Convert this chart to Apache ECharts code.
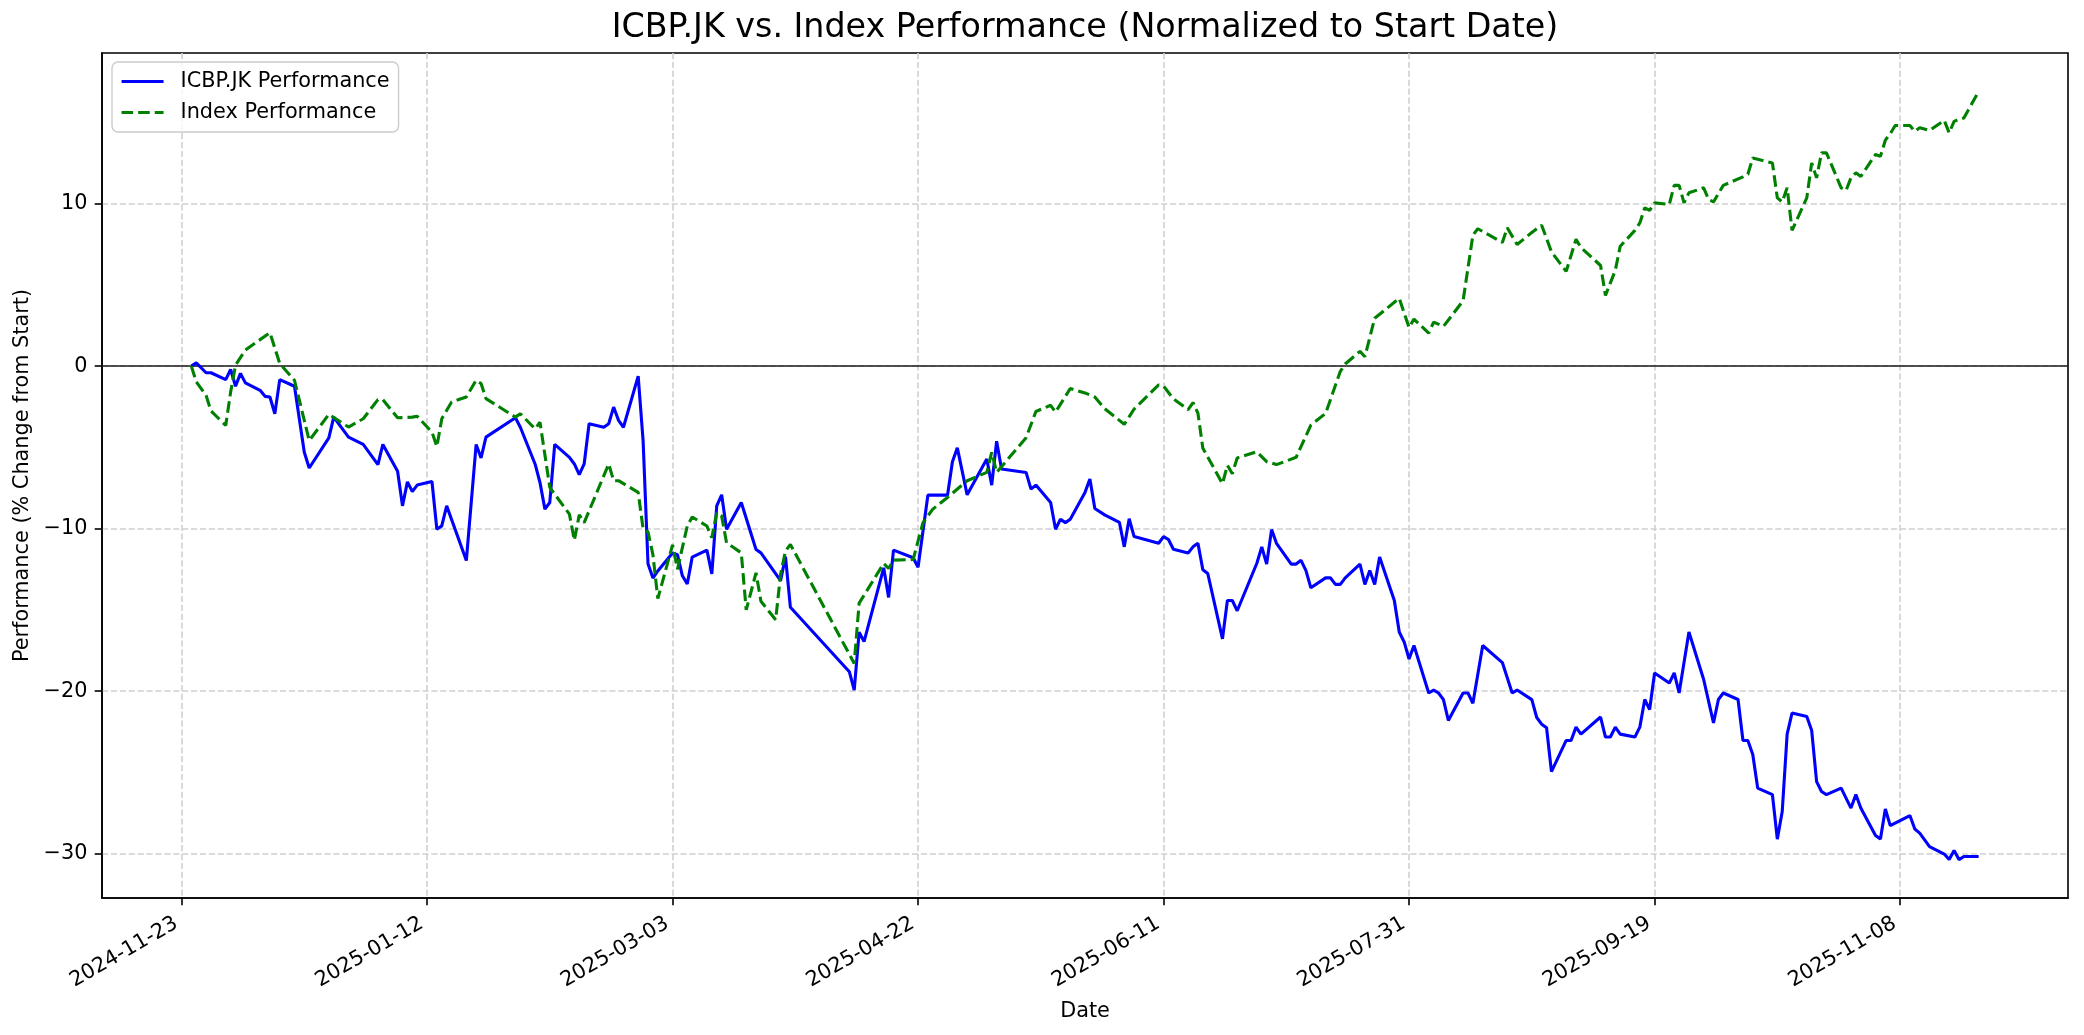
<!DOCTYPE html>
<html><head><meta charset="utf-8">
<script src="https://cdn.jsdelivr.net/npm/echarts@6/dist/echarts.min.js"></script>
<style>html,body{margin:0;padding:0;background:#fff}#chart{width:2084px;height:1035px}</style>
</head><body><div id="chart"></div>
<script>
const chartTitle = 'ICBP.JK vs. Index Performance (Normalized to Start Date)';
const seriesNames = ['ICBP.JK Performance', 'Index Performance'];

const icbpDates = [
'2024-11-25','2024-11-26','2024-11-28','2024-11-29','2024-12-02','2024-12-03','2024-12-04','2024-12-05','2024-12-06',
'2024-12-09','2024-12-10','2024-12-11','2024-12-12','2024-12-13','2024-12-16','2024-12-18','2024-12-19','2024-12-23',
'2024-12-24','2024-12-27','2024-12-30','2025-01-02','2025-01-03','2025-01-06','2025-01-07','2025-01-08','2025-01-09',
'2025-01-10','2025-01-13','2025-01-14','2025-01-15','2025-01-16','2025-01-20','2025-01-22','2025-01-23','2025-01-24',
'2025-01-30','2025-01-31','2025-02-03','2025-02-04','2025-02-05','2025-02-06','2025-02-07','2025-02-10','2025-02-11',
'2025-02-12','2025-02-13','2025-02-14','2025-02-17','2025-02-18','2025-02-19','2025-02-20','2025-02-21','2025-02-24',
'2025-02-25','2025-02-26','2025-02-27','2025-02-28','2025-03-03','2025-03-04','2025-03-05','2025-03-06','2025-03-07',
'2025-03-10','2025-03-11','2025-03-12','2025-03-13','2025-03-14','2025-03-17','2025-03-20','2025-03-21','2025-03-25',
'2025-03-26','2025-03-27','2025-04-08','2025-04-09','2025-04-10','2025-04-11','2025-04-15','2025-04-16','2025-04-17',
'2025-04-21','2025-04-22','2025-04-24','2025-04-28','2025-04-29','2025-04-30','2025-05-02','2025-05-06','2025-05-07',
'2025-05-08','2025-05-09','2025-05-14','2025-05-15','2025-05-16','2025-05-19','2025-05-20','2025-05-21','2025-05-22',
'2025-05-23','2025-05-26','2025-05-27','2025-05-28','2025-05-30','2025-06-02','2025-06-03','2025-06-04','2025-06-05',
'2025-06-10','2025-06-11','2025-06-12','2025-06-13','2025-06-16','2025-06-17','2025-06-18','2025-06-19','2025-06-20',
'2025-06-23','2025-06-24','2025-06-25','2025-06-26','2025-06-30','2025-07-01','2025-07-02','2025-07-03','2025-07-04',
'2025-07-07','2025-07-08','2025-07-09','2025-07-10','2025-07-11','2025-07-14','2025-07-15','2025-07-16','2025-07-17',
'2025-07-18','2025-07-21','2025-07-22','2025-07-23','2025-07-24','2025-07-25','2025-07-28','2025-07-29','2025-07-30',
'2025-07-31','2025-08-01','2025-08-04','2025-08-05','2025-08-06','2025-08-07','2025-08-08','2025-08-11','2025-08-12',
'2025-08-13','2025-08-15','2025-08-19','2025-08-21','2025-08-22','2025-08-25','2025-08-26','2025-08-27','2025-08-28',
'2025-08-29','2025-09-01','2025-09-02','2025-09-03','2025-09-04','2025-09-08','2025-09-09','2025-09-10','2025-09-11',
'2025-09-12','2025-09-15','2025-09-16','2025-09-17','2025-09-18','2025-09-19','2025-09-22','2025-09-23','2025-09-24',
'2025-09-26','2025-09-29','2025-10-01','2025-10-02','2025-10-03','2025-10-06','2025-10-07','2025-10-08','2025-10-09',
'2025-10-10','2025-10-13','2025-10-14','2025-10-15','2025-10-16','2025-10-17','2025-10-20','2025-10-21','2025-10-22',
'2025-10-23','2025-10-24','2025-10-27','2025-10-29','2025-10-30','2025-10-31','2025-11-03','2025-11-04','2025-11-05',
'2025-11-06','2025-11-10','2025-11-11','2025-11-12','2025-11-14','2025-11-17','2025-11-18','2025-11-19','2025-11-20',
'2025-11-21','2025-11-24'
];
const icbpValues = [
0.0,0.2,-0.41,-0.41,-0.83,-0.21,-1.24,-0.45,-1.03,
-1.49,-1.86,-1.9,-2.93,-0.83,-1.24,-5.3,-6.27,-4.41,
-3.14,-4.37,-4.82,-6.06,-4.82,-6.47,-8.6,-7.12,-7.71,
-7.32,-7.1,-10.04,-9.83,-8.6,-11.96,-4.82,-5.65,-4.37,
-3.18,-3.76,-6.02,-7.16,-8.8,-8.39,-4.82,-5.61,-6.02,
-6.68,-6.02,-3.55,-3.76,-3.55,-2.52,-3.34,-3.76,-0.62,
-4.58,-12.16,-13.04,-12.6,-11.5,-11.6,-12.9,-13.4,-11.75,
-11.32,-12.78,-8.6,-7.92,-10.04,-8.39,-11.28,-11.49,-13.2,
-11.73,-14.84,-18.8,-19.94,-16.37,-16.95,-12.41,-14.23,-11.32,
-11.79,-12.37,-7.94,-7.94,-5.88,-5.03,-7.92,-5.71,-7.32,
-4.62,-6.33,-6.54,-7.57,-7.32,-8.39,-10.04,-9.42,-9.63,
-9.42,-7.77,-6.95,-8.76,-9.15,-9.61,-11.12,-9.39,-10.49,
-10.9,-10.49,-10.67,-11.27,-11.5,-11.12,-10.9,-12.53,-12.76,
-16.78,-14.42,-14.42,-15.05,-12.13,-11.12,-12.18,-10.06,-10.9,
-12.18,-12.18,-11.95,-12.58,-13.64,-13.03,-13.03,-13.43,-13.43,
-13.03,-12.18,-13.43,-12.58,-13.43,-11.75,-14.42,-16.36,-16.97,
-18.02,-17.19,-20.11,-19.93,-20.11,-20.52,-21.8,-20.11,-20.11,
-20.74,-17.19,-18.24,-20.11,-19.93,-20.52,-21.62,-22.03,-22.25,
-24.95,-23.03,-23.03,-22.21,-22.64,-21.59,-22.82,-22.82,-22.21,
-22.64,-22.82,-22.21,-20.51,-21.13,-18.88,-19.5,-18.88,-20.11,
-16.36,-19.28,-21.95,-20.51,-20.11,-20.51,-23.03,-23.03,-23.9,
-25.96,-26.36,-29.1,-27.4,-22.64,-21.34,-21.56,-22.42,-25.56,
-26.17,-26.36,-25.96,-27.19,-26.36,-27.19,-28.88,-29.1,-27.25,
-28.27,-27.65,-28.48,-28.73,-29.56,-30.02,-30.36,-29.8,-30.36,
-30.17,-30.17
];

const indexDates = [
'2024-11-25','2024-11-26','2024-11-28','2024-11-29','2024-12-02','2024-12-03','2024-12-04','2024-12-06','2024-12-11',
'2024-12-13','2024-12-16','2024-12-19','2024-12-23','2024-12-27','2024-12-30','2025-01-02','2025-01-03','2025-01-06',
'2025-01-09','2025-01-10','2025-01-13','2025-01-14','2025-01-15','2025-01-17','2025-01-20','2025-01-22','2025-01-23',
'2025-01-24','2025-01-30','2025-01-31','2025-02-03','2025-02-04','2025-02-06','2025-02-07','2025-02-10','2025-02-11',
'2025-02-12','2025-02-13','2025-02-18','2025-02-19','2025-02-20','2025-02-24','2025-02-25','2025-02-26','2025-02-27',
'2025-02-28','2025-03-03','2025-03-04','2025-03-06','2025-03-07','2025-03-10','2025-03-11','2025-03-12','2025-03-13',
'2025-03-14','2025-03-17','2025-03-18','2025-03-20','2025-03-21','2025-03-24','2025-03-25','2025-03-26','2025-03-27',
'2025-04-09','2025-04-10','2025-04-11','2025-04-15','2025-04-16','2025-04-17','2025-04-21','2025-04-23','2025-04-25',
'2025-04-28','2025-05-02','2025-05-06','2025-05-07','2025-05-08','2025-05-14','2025-05-16','2025-05-19','2025-05-20',
'2025-05-23','2025-05-26','2025-05-28','2025-05-30','2025-06-03','2025-06-05','2025-06-10','2025-06-11','2025-06-13',
'2025-06-16','2025-06-17','2025-06-18','2025-06-19','2025-06-23','2025-06-24','2025-06-25','2025-06-26','2025-06-30',
'2025-07-02','2025-07-04','2025-07-08','2025-07-11','2025-07-14','2025-07-17','2025-07-18','2025-07-21','2025-07-22',
'2025-07-24','2025-07-29','2025-07-31','2025-08-01','2025-08-04','2025-08-05','2025-08-07','2025-08-11','2025-08-13',
'2025-08-14','2025-08-19','2025-08-20','2025-08-22','2025-08-25','2025-08-27','2025-08-29','2025-09-01','2025-09-03',
'2025-09-04','2025-09-08','2025-09-09','2025-09-10','2025-09-11','2025-09-12','2025-09-15','2025-09-16','2025-09-17',
'2025-09-18','2025-09-19','2025-09-22','2025-09-23','2025-09-24','2025-09-25','2025-09-26','2025-09-29','2025-09-30',
'2025-10-01','2025-10-03','2025-10-07','2025-10-08','2025-10-09','2025-10-13','2025-10-14','2025-10-15','2025-10-16',
'2025-10-17','2025-10-20','2025-10-21','2025-10-22','2025-10-23','2025-10-24','2025-10-27','2025-10-28','2025-10-29',
'2025-10-30','2025-10-31','2025-11-03','2025-11-04','2025-11-05','2025-11-06','2025-11-07','2025-11-10','2025-11-11',
'2025-11-12','2025-11-14','2025-11-17','2025-11-18','2025-11-19','2025-11-20','2025-11-21','2025-11-24'
];
const indexValues = [
0.0,-0.97,-1.8,-2.76,-3.65,-1.59,0.06,0.99,2.06,
0.16,-0.87,-4.58,-2.97,-3.75,-3.24,-2.06,-2.06,-3.18,
-3.14,-3.09,-4.06,-4.95,-3.24,-2.21,-1.9,-0.87,-1.07,
-2.0,-3.14,-2.93,-3.86,-3.45,-7.46,-7.88,-9.11,-10.72,
-9.15,-9.63,-6.02,-7.05,-7.05,-7.77,-10.0,-10.2,-11.6,
-14.3,-11.0,-12.5,-9.84,-9.28,-9.84,-10.56,-9.01,-9.22,
-10.87,-11.49,-15.0,-12.72,-14.47,-15.6,-12.82,-11.38,-10.97,
-18.29,-14.58,-14.1,-12.14,-12.45,-11.94,-11.9,-9.63,-8.8,
-8.08,-7.05,-6.54,-5.3,-6.54,-4.41,-2.79,-2.41,-2.83,
-1.38,-1.65,-1.9,-2.62,-3.58,-2.64,-1.16,-1.23,-2.01,
-2.68,-2.24,-2.9,-5.05,-7.23,-6.1,-6.62,-5.65,-5.27,
-5.88,-6.06,-5.61,-3.63,-2.91,-0.32,0.13,0.91,0.58,
2.94,4.17,2.37,2.89,2.03,2.71,2.44,4.02,8.06,
8.45,7.61,8.51,7.48,8.22,8.67,7.03,5.83,7.8,
7.3,6.19,4.35,5.12,5.89,7.37,8.35,8.81,9.74,
9.58,10.04,9.95,11.12,11.12,10.04,10.66,10.97,10.26,
10.1,11.12,11.64,11.8,12.81,12.5,10.35,10.1,10.97,
8.35,10.35,12.5,11.58,13.12,13.12,10.97,10.81,11.58,
11.89,11.67,13.02,12.9,13.9,14.3,14.8,14.8,14.44,
14.66,14.5,15.12,14.35,15.06,15.18,15.27,16.9
];

const xTickLabels = ['2024-11-23','2025-01-12','2025-03-03','2025-04-22','2025-06-11','2025-07-31','2025-09-19','2025-11-08'];
const yTickValues = [-30, -20, -10, 0, 10];

const FONT = 'DejaVu Sans';
const FS = 20.8;
const parse = s => { const p = s.split('-').map(Number); return Date.UTC(p[0], p[1] - 1, p[2]); };
const icbpData = icbpDates.map((d, i) => [parse(d), icbpValues[i]]);
const indexData = indexDates.map((d, i) => [parse(d), indexValues[i]]);

const allT = icbpData.concat(indexData).map(p => p[0]);
const allV = icbpValues.concat(indexValues);
const tMin = Math.min(...allT), tMax = Math.max(...allT);
const vMin = Math.min(...allV), vMax = Math.max(...allV);
const tPad = (tMax - tMin) * 0.05, vPad = (vMax - vMin) * 0.05;
const xTickTimes = xTickLabels.map(parse);

const pad2 = n => (n < 10 ? '0' : '') + n;
const fmtDate = v => { const d = new Date(v); return d.getUTCFullYear() + '-' + pad2(d.getUTCMonth() + 1) + '-' + pad2(d.getUTCDate()); };
const fmtNum = v => (v < 0 ? '\u2212' + Math.abs(v) : String(v));

const gridLine = { show: true, lineStyle: { color: '#d0d0d0', width: 1.6, type: [6.2, 2.7] } };
const axisBlack = { color: '#000', width: 1.6 };

const chart = echarts.init(document.getElementById('chart'), null, { renderer: 'canvas' });
chart.setOption({
  animation: false,
  backgroundColor: '#ffffff',
  textStyle: { fontFamily: FONT },
  graphic: [{
    type: 'text', x: 1085, y: 28.5, z: 10,
    style: { text: chartTitle, font: '33.3px "DejaVu Sans"', fill: '#000', textAlign: 'center', textVerticalAlign: 'middle' }
  }],
  legend: {
    data: seriesNames,
    orient: 'vertical', left: 112, top: 62,
    padding: [9, 9, 9, 8],
    itemWidth: 42, itemHeight: 21, itemGap: 10,
    backgroundColor: 'rgba(255,255,255,0.8)',
    borderColor: '#cccccc', borderWidth: 1.4, borderRadius: 6,
    itemStyle: { opacity: 0 },
    lineStyle: { width: 3.1 },
    textStyle: { fontFamily: FONT, fontSize: FS, color: '#000', padding: [0, 0, 0, 12] },
    selectedMode: false
  },
  grid: {
    left: 102, right: 16, top: 53, bottom: 137,
    show: true, borderColor: '#000', borderWidth: 1.6, backgroundColor: 'transparent'
  },
  xAxis: {
    type: 'value', scale: true,
    min: tMin - tPad, max: tMax + tPad,
    name: 'Date', nameLocation: 'middle', nameGap: 103,
    nameTextStyle: { fontFamily: FONT, fontSize: FS, color: '#000' },
    axisLine: { show: true, onZero: false, lineStyle: axisBlack },
    axisTick: { show: true, inside: false, length: 7.3, customValues: xTickTimes, lineStyle: axisBlack },
    axisLabel: { customValues: xTickTimes, rotate: 30, margin: 21, padding: [0, 6, 0, 0], fontFamily: FONT, fontSize: FS, color: '#000', formatter: v => fmtDate(v), hideOverlap: false },
    splitLine: gridLine
  },
  yAxis: {
    type: 'value',
    min: vMin - vPad, max: vMax + vPad,
    name: 'Performance (% Change from Start)', nameLocation: 'middle', nameGap: 68, nameRotate: 90,
    nameTextStyle: { fontFamily: FONT, fontSize: FS, color: '#000' },
    axisLine: { show: true, onZero: false, lineStyle: axisBlack },
    axisTick: { show: true, inside: false, length: 7.3, customValues: yTickValues, lineStyle: axisBlack },
    axisLabel: { customValues: yTickValues, margin: 14.6, fontFamily: FONT, fontSize: FS, color: '#000', formatter: v => fmtNum(v) },
    splitLine: gridLine
  },
  series: [
    {
      name: seriesNames[0], type: 'line', data: icbpData,
      symbol: 'none', showSymbol: false, smooth: false,
      lineStyle: { color: '#0000ff', width: 3.1 }, itemStyle: { color: '#0000ff' },
      z: 3,
      markLine: {
        silent: true, symbol: 'none', label: { show: false },
        lineStyle: { color: '#1a1a1a', type: 'solid', width: 1.6 },
        data: [{ yAxis: 0 }], z: 2
      }
    },
    {
      name: seriesNames[1], type: 'line', data: indexData,
      symbol: 'none', showSymbol: false, smooth: false,
      lineStyle: { color: '#008000', width: 3.1, type: [11.6, 5.0] }, itemStyle: { color: '#008000' },
      z: 3
    }
  ]
});
</script>
</body></html>
